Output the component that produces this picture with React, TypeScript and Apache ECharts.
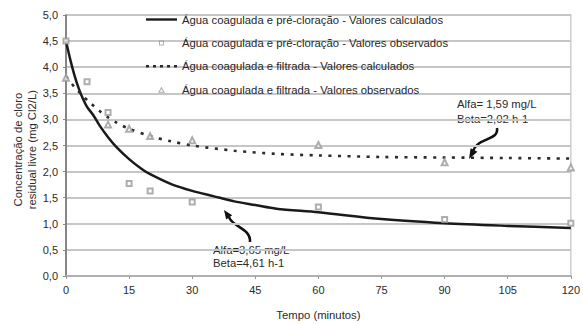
import React, { useEffect, useRef } from "react";
import * as echarts from "echarts";

// Time axis ticks (minutes)
const timeTicks = [0, 15, 30, 45, 60, 75, 90, 105, 120];

// Calculated curve – coagulated water with pre-chlorination
const calcPreTime = [0, 1, 2, 3, 4, 5, 6.5, 8, 10, 12, 15, 18, 20, 25, 30, 35, 40, 45, 50, 60, 75, 90, 105, 120];
const calcPreConc = [4.5, 4.15, 3.85, 3.6, 3.4, 3.24, 3.08, 2.88, 2.66, 2.47, 2.24, 2.05, 1.95, 1.76, 1.63, 1.53, 1.43, 1.36, 1.29, 1.22, 1.09, 1.01, 0.96, 0.92];

// Observed values – coagulated water with pre-chlorination
const obsPreTime = [0, 5, 10, 15, 20, 30, 60, 90, 120];
const obsPreConc = [4.5, 3.72, 3.13, 1.77, 1.63, 1.42, 1.32, 1.08, 1.01];

// Calculated curve – coagulated and filtered water
const calcFilTime = [0, 2, 4, 6, 8, 10, 12, 15, 20, 25, 30, 40, 50, 60, 75, 90, 105, 120];
const calcFilConc = [3.82, 3.62, 3.45, 3.3, 3.16, 3.04, 2.94, 2.82, 2.68, 2.58, 2.5, 2.4, 2.34, 2.31, 2.28, 2.27, 2.26, 2.25];

// Observed values – coagulated and filtered water
const obsFilTime = [0, 10, 15, 20, 30, 60, 90, 120];
const obsFilConc = [3.8, 2.9, 2.82, 2.68, 2.6, 2.51, 2.18, 2.08];

const seriesNames = [
  "Água coagulada e pré-cloração - Valores calculados",
  "Água coagulada e pré-cloração - Valores observados",
  "Água coagulada e filtrada - Valores calculados",
  "Água coagulada e filtrada - Valores observados",
];

const FONT = "'Liberation Sans', Arial, sans-serif";
const TEXT_SIZE = 11.3;

const pairs = (xs: number[], ys: number[]) => xs.map((x, i) => [x, ys[i]]);

// Legend icons (drawn inside a 31x10 box)
const iconSolid = "path://M0,3.8h31v2.4h-31z";
const iconDotted =
  "path://M0,0M31,10M0,3.8h3v2.4h-3zM7,3.8h3v2.4h-3zM14,3.8h3v2.4h-3zM21,3.8h3v2.4h-3zM28,3.8h3v2.4h-3z";
const iconSquare = "path://M0,0M31,10M13,2.5h5v5h-5zM14,3.5v3h3v-3z";
const iconTriangle = "path://M0,0M31,10M15.5,2L19,8H12ZM15.5,4.2L13.8,7H17.2Z";

export default function App() {
  const ref = useRef<HTMLDivElement>(null);

  useEffect(() => {
    if (!ref.current) return;
    const chart = echarts.init(ref.current, undefined, { renderer: "svg" });

    const option: any = {
      animation: false,
      backgroundColor: "#ffffff",
      textStyle: { fontFamily: FONT },
      grid: {
        left: 66,
        right: 11,
        top: 15,
        bottom: 42,
        show: true,
        borderColor: "#cfcfcf",
        borderWidth: 1.5,
      },
      legend: {
        orient: "vertical",
        left: 146,
        top: 14,
        padding: 0,
        itemWidth: 31,
        itemHeight: 10,
        itemGap: 12.4,
        textStyle: { fontSize: TEXT_SIZE, lineHeight: 10, color: "#262626", fontFamily: FONT },
        data: [
          { name: seriesNames[0], icon: iconSolid, itemStyle: { color: "#1a1a1a", borderWidth: 0 } },
          { name: seriesNames[1], icon: iconSquare, itemStyle: { color: "#9a9a9a", borderWidth: 0 } },
          { name: seriesNames[2], icon: iconDotted, itemStyle: { color: "#2a2a2a", borderWidth: 0 } },
          { name: seriesNames[3], icon: iconTriangle, itemStyle: { color: "#9a9a9a", borderWidth: 0 } },
        ],
      },
      xAxis: {
        type: "value",
        min: 0,
        max: 120,
        interval: 15,
        name: "Tempo (minutos)",
        nameLocation: "middle",
        nameGap: 33,
        nameTextStyle: { fontSize: TEXT_SIZE, color: "#2a2a2a", fontFamily: FONT },
        axisLine: { show: true, lineStyle: { color: "#b0b0b0", width: 2 } },
        axisTick: { show: true, length: 3, lineStyle: { color: "#999" } },
        axisLabel: {
          fontSize: 11,
          color: "#2a2a2a",
          margin: 8,
          formatter: (v: number) => (timeTicks.includes(v) ? String(v) : ""),
        },
        splitLine: { show: false },
      },
      yAxis: {
        type: "value",
        min: 0,
        max: 5,
        interval: 0.5,
        axisLine: { show: true, lineStyle: { color: "#6a6a6a", width: 1.5 } },
        axisTick: { show: true, length: 3, lineStyle: { color: "#888" } },
        axisLabel: {
          fontSize: 11,
          color: "#2a2a2a",
          margin: 8,
          formatter: (v: number) => v.toFixed(1).replace(".", ","),
        },
        splitLine: { show: true, lineStyle: { color: "#c6c6c6", width: 2 } },
      },
      series: [
        {
          name: seriesNames[0],
          type: "line",
          smooth: 0.3,
          symbol: "none",
          color: "#1a1a1a",
          lineStyle: { color: "#1a1a1a", width: 2.5 },
          data: pairs(calcPreTime, calcPreConc),
          z: 4,
        },
        {
          name: seriesNames[1],
          type: "scatter",
          symbol: "emptyRect",
          symbolSize: 5,
          color: "#9a9a9a",
          itemStyle: { color: "#9a9a9a", borderWidth: 1 },
          data: pairs(obsPreTime, obsPreConc),
          z: 5,
        },
        {
          name: seriesNames[2],
          type: "line",
          smooth: 0.3,
          symbol: "none",
          color: "#2a2a2a",
          lineStyle: { color: "#2a2a2a", width: 2.6, type: [3, 6.5] },
          data: pairs(calcFilTime, calcFilConc),
          z: 4,
        },
        {
          name: seriesNames[3],
          type: "scatter",
          symbol: "emptyTriangle",
          symbolSize: 6,
          color: "#9a9a9a",
          itemStyle: { color: "#9a9a9a", borderWidth: 1 },
          data: pairs(obsFilTime, obsFilConc),
          z: 5,
        },
      ],
      graphic: [
        {
          type: "text",
          left: 11,
          top: 90,
          rotation: Math.PI / 2,
          style: {
            text: "Concentração de cloro\nresidual livre (mg Cl2/L)",
            font: `${TEXT_SIZE}px ${FONT}`,
            fill: "#2a2a2a",
            textAlign: "center",
            lineHeight: 14,
          },
        },
        {
          type: "text",
          x: 457,
          y: 96,
          style: {
            text: "Alfa= 1,59 mg/L\nBeta=2,02 h-1",
            font: `${TEXT_SIZE}px ${FONT}`,
            fill: "#2a2a2a",
            lineHeight: 15,
          },
        },
        {
          type: "text",
          x: 213,
          y: 244,
          style: {
            text: "Alfa=3,65 mg/L\nBeta=4,61 h-1",
            font: `${TEXT_SIZE}px ${FONT}`,
            fill: "#2a2a2a",
            lineHeight: 12.5,
          },
        },
        {
          type: "bezierCurve",
          shape: { x1: 497, y1: 128, cpx1: 499, cpy1: 141, cpx2: 478, cpy2: 137, x2: 473, y2: 151 },
          style: { stroke: "#111", lineWidth: 2.6, fill: null },
        },
        {
          type: "polygon",
          shape: { points: [[469, 159], [477.4, 151.8], [470.6, 148.2]] },
          style: { fill: "#111" },
        },
        {
          type: "bezierCurve",
          shape: { x1: 250, y1: 242, cpx1: 251, cpy1: 228, cpx2: 232, cpy2: 227, x2: 229, y2: 217 },
          style: { stroke: "#111", lineWidth: 2.6, fill: null },
        },
        {
          type: "polygon",
          shape: { points: [[224, 210], [232.2, 215.2], [226.2, 219.4]] },
          style: { fill: "#111" },
        },
      ],
    };

    chart.setOption(option);
    return () => chart.dispose();
  }, []);

  return (
    <div
      ref={ref}
      style={{ position: "fixed", left: 0, top: 0, width: 583, height: 325, background: "#fff" }}
    />
  );
}
